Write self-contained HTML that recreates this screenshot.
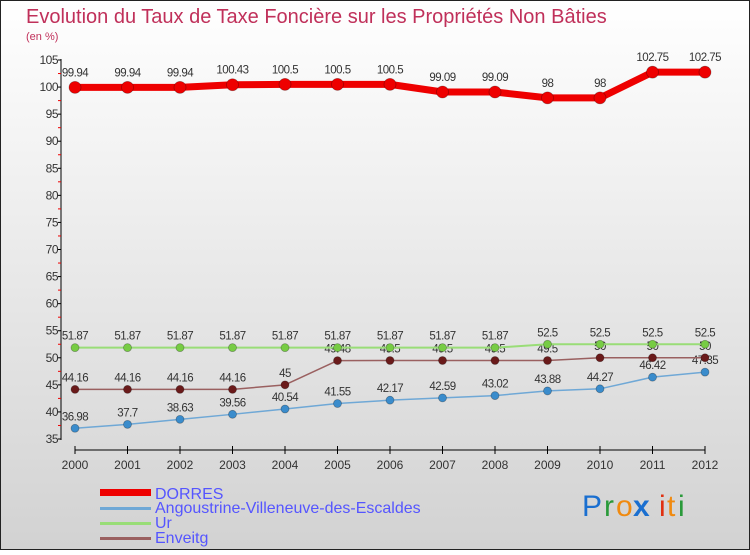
<!DOCTYPE html>
<html><head><meta charset="utf-8">
<style>
body{margin:0}
svg text{font-family:"Liberation Sans",sans-serif}
</style></head>
<body>
<svg id="chart" width="750" height="550" xmlns="http://www.w3.org/2000/svg">
<defs>
<linearGradient id="bg" x1="0" y1="0" x2="0" y2="1"><stop offset="0" stop-color="#ffffff"/><stop offset="1" stop-color="#d2d2d2"/></linearGradient>
</defs>
<rect x="0.5" y="0.5" width="749" height="549" fill="url(#bg)" stroke="#222"/>
<text x="26" y="23" font-size="20" fill="#c0305a">Evolution du Taux de Taxe Foncière sur les Propriétés Non Bâties</text>
<text x="26" y="40" font-size="11" fill="#c0305a">(en %)</text>
<g id="axes"></g>
<g id="series"></g>
<g id="legend">
<rect x="100" y="489" width="51" height="7" fill="#e00"/>
<text x="155" y="499" font-size="16" fill="#5555ff">DORRES</text>
<rect x="100" y="507" width="51" height="3" fill="#6fa8d6"/>
<text x="155" y="513" font-size="16" fill="#5555ff">Angoustrine-Villeneuve-des-Escaldes</text>
<rect x="100" y="522" width="51" height="3" fill="#99dd77"/>
<text x="155" y="528" font-size="16" fill="#5555ff">Ur</text>
<rect x="100" y="537" width="51" height="3" fill="#9a6060"/>
<text x="155" y="543" font-size="16" fill="#5555ff">Enveitg</text>
</g>
<g font-size="30" font-family="Liberation Sans, sans-serif">
<text x="582" y="516" fill="#1a6fd0">P</text><text x="604" y="516" fill="#2a9a3a">r</text><text x="616" y="516" fill="#f08a10">o</text><text x="633" y="516" fill="#1a6fd0" font-weight="bold">x</text><text x="659" y="516" fill="#e03010">i</text><text x="667" y="516" fill="#f08a10">t</text><text x="678" y="516" fill="#2a9a3a">i</text>
</g>
</svg>
<script>
const years=[2000,2001,2002,2003,2004,2005,2006,2007,2008,2009,2010,2011,2012];
const dorres=[99.94,99.94,99.94,100.43,100.5,100.5,100.5,99.09,99.09,98,98,102.75,102.75];
const angoustrine=[36.98,37.7,38.63,39.56,40.54,41.55,42.17,42.59,43.02,43.88,44.27,46.42,47.35];
const ur=[51.87,51.87,51.87,51.87,51.87,51.87,51.87,51.87,51.87,52.5,52.5,52.5,52.5];
const enveitg=[44.16,44.16,44.16,44.16,45,49.48,49.5,49.5,49.5,49.5,50,50,50];
const yTicks=[35,40,45,50,55,60,65,70,75,80,85,90,95,100,105];
const NS="http://www.w3.org/2000/svg";
const x=i=>75+i*52.5;
const y=v=>439-(v-35)*(379/70);
function mk(tag,attrs,parent){const e=document.createElementNS(NS,tag);for(const k in attrs)e.setAttribute(k,attrs[k]);parent.appendChild(e);return e;}
const ax=document.getElementById('axes');
let l=mk('line',{x1:61,y1:59,x2:61,y2:440,stroke:'#000'},ax);


l=mk('line',{x1:75,y1:450,x2:705,y2:450,stroke:'#000'},ax);


yTicks.forEach((t,i)=>{
  mk('line',{x1:58,y1:y(t),x2:61,y2:y(t),stroke:'#000'},ax);
  if(i<yTicks.length-1)mk('line',{x1:58,y1:y(t+2.5),x2:61,y2:y(t+2.5),stroke:'#e00'},ax);
  const tx=mk('text',{x:58,y:y(t)+4,'font-size':12,'text-anchor':'end',fill:'#333','letter-spacing':'-0.5'},ax);
  tx.textContent=t;
  
  
});
years.forEach((yr,i)=>{
  mk('line',{x1:x(i),y1:446,x2:x(i),y2:454,stroke:'#000'},ax);
  const tx=mk('text',{x:x(i),y:469,'font-size':12,'text-anchor':'middle',fill:'#333'},ax);
  tx.textContent=yr;
  
  
});
const sg=document.getElementById('series');
function series(name,data,color,dot,w,r,labOff){
  const g=mk('g',{},sg);
  
  
  const p=mk('polyline',{points:data.map((v,i)=>x(i)+','+y(v)).join(' '),fill:'none',stroke:color,'stroke-width':w,'stroke-linejoin':'round'},g);
  
  
  data.forEach((v,i)=>{
    const c=mk('circle',{cx:x(i),cy:y(v),r:r,fill:dot,stroke:'rgba(0,0,0,0.3)','stroke-width':0.8},g);
    
    
    const t=mk('text',{x:x(i),y:y(v)-labOff,'font-size':11.5,'text-anchor':'middle',fill:'#333','letter-spacing':'-0.5'},g);
    t.textContent=v;
    
    
  });
}
series('angoustrine',angoustrine,'#6fa8d6','#3a8ccc',1.5,4,8);
series('enveitg',enveitg,'#9a6060','#6a1a1a',1.5,4,8);
series('ur',ur,'#99dd77','#77cc44',2,4,8);
series('dorres',dorres,'#e00','#e00',7,6,11);
</script>
</body></html>
